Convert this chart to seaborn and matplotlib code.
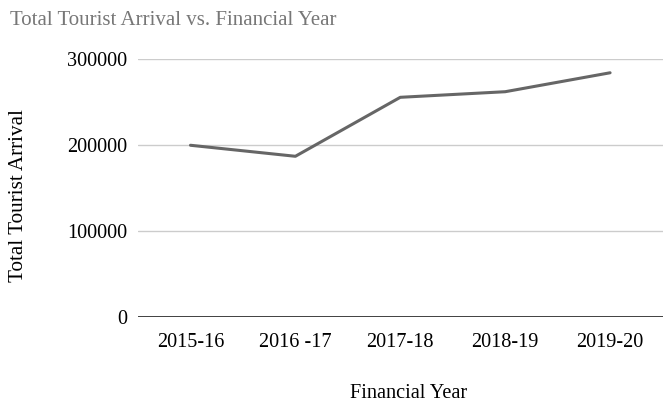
import pandas as pd
import matplotlib
matplotlib.use("Agg")
import matplotlib.pyplot as plt
import seaborn as sns

years = ["2015-16", "2016 -17", "2017-18", "2018-19", "2019-20"]
arrivals = [199800, 187000, 255500, 262000, 284000]
y_ticks = [0, 100000, 200000, 300000]

df = pd.DataFrame({"Financial Year": years, "Total Tourist Arrival": arrivals})

sns.set_theme(style="white")
plt.rcParams['font.family'] = ['Liberation Serif', 'DejaVu Serif']

fig, ax = plt.subplots(figsize=(6.72, 4.03), dpi=100)
fig.subplots_adjust(left=0.2054, right=0.9859, bottom=0.2127, top=0.8536)

sns.lineplot(data=df, x="Financial Year", y="Total Tourist Arrival",
             color="#666666", linewidth=2.2, sort=False, ax=ax)

ax.set_xlim(-0.5, len(years) - 0.5)
ax.set_ylim(0, 300000)
ax.set_yticks(y_ticks)
ax.set_yticklabels([str(t) for t in y_ticks])
ax.yaxis.grid(True, color="#cccccc", linewidth=1)
ax.axhline(0, color="#333333", linewidth=1.3, zorder=3)
for s in ax.spines.values():
    s.set_visible(False)
ax.tick_params(axis="both", length=0, labelsize=14.6, colors="black")
ax.tick_params(axis="x", pad=11)
ax.tick_params(axis="y", pad=8)

ax.set_xlabel("Financial Year", fontsize=14.6, color="black")
ax.set_ylabel("Total Tourist Arrival", fontsize=15.2, color="black")
ax.xaxis.set_label_coords(0.515, -0.258)
ax.yaxis.set_label_coords(-0.21, 0.47)

fig.text(0.015, 0.95, "Total Tourist Arrival vs. Financial Year",
         fontsize=15, color="#777777", va="center", ha="left")

fig.savefig("out.png", dpi=100)
